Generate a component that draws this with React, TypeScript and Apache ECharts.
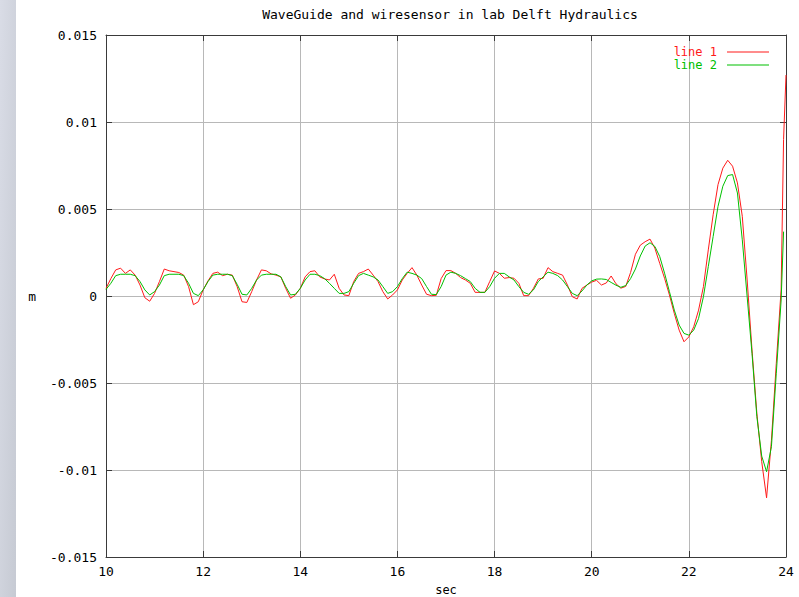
import React, { useEffect, useRef } from "react";
import * as echarts from "echarts";

const title = "WaveGuide and wiresensor in lab Delft Hydraulics";
const xName = "sec";
const yName = "m";
const seriesNames = ["line 1", "line 2"];
const xTicks = [10, 12, 14, 16, 18, 20, 22, 24];
const yTicks = [-0.015, -0.01, -0.005, 0, 0.005, 0.01, 0.015];

// sample times 10.0 .. 23.9 s (0.1 s step)
const startTime = 10;
const timeStep = 0.1;

// line 1 (red), metres
const line1 = [
  0.00044, 0.001, 0.0015, 0.0016, 0.0013, 0.0015, 0.0012, 0.00063, -0.0001, -0.0003,
  0.00015, 0.00083, 0.00155, 0.00145, 0.0014, 0.00135, 0.0012, 0.00054, -0.0005, -0.00033,
  0.00035, 0.00087, 0.0013, 0.00137, 0.00117, 0.00125, 0.0012, 0.00054, -0.00033, -0.00037,
  0.00025, 0.00092, 0.0015, 0.00145, 0.00127, 0.0012, 0.0011, 0.00044, -0.00013, 0.00006,
  0.00044, 0.0011, 0.0014, 0.00145, 0.0011, 0.00098, 0.00092, 0.00125, 0.00044, 0.00006,
  0.00002, 0.00083, 0.0013, 0.0014, 0.00155, 0.0012, 0.00083, 0.00025, -0.00017, 0.00006,
  0.00035, 0.00092, 0.0013, 0.00163, 0.0012, 0.00063, 0.0001, 0.00002, 0.00004, 0.001,
  0.00146, 0.00146, 0.0013, 0.00106, 0.00092, 0.00073, 0.00021, 0.00021, 0.00021, 0.00083,
  0.00144, 0.0013, 0.00102, 0.00106, 0.00102, 0.00073, 0.00002, 0.00002, 0.00044, 0.00098,
  0.00102, 0.00163, 0.0014, 0.0013, 0.0012, 0.00063, -0.00004, -0.00017, 0.00044, 0.00063,
  0.0008, 0.0009, 0.00063, 0.00075, 0.00115, 0.0007, 0.00045, 0.00055, 0.00135, 0.0024,
  0.00292, 0.00312, 0.00327, 0.00275, 0.00188, 0.00102, 0.00006, -0.001, -0.00196, -0.00263,
  -0.00235, -0.00177, -0.00081, 0.00054, 0.00265, 0.00467, 0.0064, 0.00735, 0.0078, 0.00746,
  0.0065, 0.00458, 0.00092, -0.0031, -0.00674, -0.00952, -0.0116, -0.0083, -0.00387, 0.0004,
];
const line1Tail = [
  [23.95, 0.009],
  [24.0, 0.0127],
];

// line 2 (green), metres
const line2 = [
  0.00038, 0.00073, 0.00117, 0.00125, 0.00125, 0.00125, 0.00117, 0.00083, 0.00035, 0.00006,
  0.00025, 0.00063, 0.00117, 0.00125, 0.00125, 0.00125, 0.00117, 0.00073, 0.00015, 0.00002,
  0.00035, 0.00083, 0.0012, 0.00125, 0.00125, 0.00125, 0.00117, 0.00067, 0.0001, 0.00006,
  0.00044, 0.00092, 0.0012, 0.00125, 0.00125, 0.00125, 0.0011, 0.00054, 0.00006, 0.0001,
  0.00044, 0.00092, 0.00125, 0.00125, 0.00117, 0.001, 0.00073, 0.00044, 0.00015, 0.00015,
  0.00025, 0.00073, 0.00117, 0.0013, 0.0012, 0.0011, 0.00092, 0.00054, 0.00015, 0.00025,
  0.00054, 0.001, 0.00137, 0.0013, 0.0012, 0.001, 0.00054, 0.0001, 0.00008, 0.00054,
  0.0012, 0.00137, 0.0013, 0.00117, 0.001, 0.00083, 0.00044, 0.00021, 0.00021, 0.00054,
  0.00102, 0.0013, 0.0013, 0.0011, 0.00092, 0.00054, 0.00021, 0.0001, 0.00035, 0.00083,
  0.0011, 0.00137, 0.0013, 0.00117, 0.00092, 0.00054, 0.00015, 0.00002, 0.00029, 0.00063,
  0.00087, 0.00097, 0.00098, 0.00095, 0.00078, 0.00062, 0.0005, 0.0006, 0.001, 0.00155,
  0.0023, 0.00287, 0.00306, 0.00285, 0.00227, 0.00131, 0.00025, -0.00081, -0.00167, -0.00215,
  -0.00225, -0.00196, -0.00129, -0.00004, 0.00169, 0.00342, 0.00515, 0.00631, 0.00692, 0.00698,
  0.00592, 0.00323, -0.00004, -0.0033, -0.00693, -0.0092, -0.0101, -0.00866, -0.00444, -0.00023,
];
const line2Tail = [[23.95, 0.0037]];

const toPairs = (vals: number[], tail: number[][]) =>
  vals
    .map((v, i) => [+(startTime + i * timeStep).toFixed(2), v])
    .concat(tail);

const FONT = "DejaVu Sans Mono";
const AXIS_COLOR = "#3a3a3a";
const GRID_COLOR = "#b8b8b8";
const RED = "#ff1a1a";
const GREEN = "#00c000";

export default function App() {
  const ref = useRef<HTMLDivElement>(null);
  useEffect(() => {
    if (!ref.current) return;
    const chart = echarts.init(ref.current, undefined, { renderer: "svg" });
    const yFmt = (v: number) => String(+v.toFixed(3));
    const tickCommon = { show: true, inside: true, length: 6, lineStyle: { color: AXIS_COLOR } };
    chart.setOption({
      animation: false,
      backgroundColor: "#ffffff",
      graphic: [
        {
          type: "rect",
          left: 0,
          top: 0,
          shape: { width: 16, height: 597 },
          style: {
            fill: new echarts.graphic.LinearGradient(0, 0, 1, 1, [
              { offset: 0, color: "#d9dce6" },
              { offset: 1, color: "#c6cad3" },
            ]),
          },
          silent: true,
        },
      ],
      title: {
        text: title,
        left: 445,
        textAlign: "center",
        top: 3,
        textStyle: { fontFamily: FONT, fontSize: 13, fontWeight: "normal", color: "#000" },
      },
      legend: {
        orient: "vertical",
        right: 25,
        top: 41,
        align: "right",
        icon: "rect",
        itemWidth: 42,
        itemHeight: 1,
        itemGap: 1,
        data: [
          { name: seriesNames[0], textStyle: { color: RED } },
          { name: seriesNames[1], textStyle: { color: GREEN } },
        ],
        textStyle: { fontFamily: FONT, fontSize: 12, lineHeight: 12, padding: [0, 5, 0, 0] },
      },
      grid: {
        left: 106,
        right: 13,
        top: 35,
        bottom: 40,
        containLabel: false,
        outerBoundsMode: "none",
      },
      xAxis: [
        {
          type: "value",
          min: xTicks[0],
          max: xTicks[xTicks.length - 1],
          interval: 2,
          name: xName,
          nameLocation: "middle",
          nameGap: 27,
          nameTextStyle: { fontFamily: FONT, fontSize: 12, lineHeight: 12, color: "#000" },
          axisLine: { show: true, onZero: false, lineStyle: { color: AXIS_COLOR, width: 1 } },
          axisTick: tickCommon,
          axisLabel: { fontFamily: FONT, fontSize: 13, color: "#000", margin: 8 },
          splitLine: { show: true, lineStyle: { color: GRID_COLOR, width: 1 } },
        },
        {
          type: "value",
          position: "top",
          min: xTicks[0],
          max: xTicks[xTicks.length - 1],
          interval: 2,
          axisLine: { show: true, onZero: false, lineStyle: { color: AXIS_COLOR, width: 1 } },
          axisTick: tickCommon,
          axisLabel: { show: false },
          splitLine: { show: false },
        },
      ],
      yAxis: [
        {
          type: "value",
          min: yTicks[0],
          max: yTicks[yTicks.length - 1],
          interval: 0.005,
          name: yName,
          nameLocation: "middle",
          nameRotate: 0,
          nameGap: 70,
          nameTextStyle: { fontFamily: FONT, fontSize: 13, color: "#000" },
          axisLine: { show: true, onZero: false, lineStyle: { color: AXIS_COLOR, width: 1 } },
          axisTick: tickCommon,
          axisLabel: { fontFamily: FONT, fontSize: 13, color: "#000", margin: 9, formatter: yFmt },
          splitLine: { show: true, lineStyle: { color: GRID_COLOR, width: 1 } },
        },
        {
          type: "value",
          position: "right",
          min: yTicks[0],
          max: yTicks[yTicks.length - 1],
          interval: 0.005,
          axisLine: { show: true, onZero: false, lineStyle: { color: AXIS_COLOR, width: 1 } },
          axisTick: tickCommon,
          axisLabel: { show: false },
          splitLine: { show: false },
        },
      ],
      series: [
        {
          name: seriesNames[0],
          type: "line",
          data: toPairs(line1, line1Tail),
          symbol: "none",
          color: RED,
          lineStyle: { color: RED, width: 1 },
          clip: true,
          z: 3,
        },
        {
          name: seriesNames[1],
          type: "line",
          data: toPairs(line2, line2Tail),
          symbol: "none",
          color: GREEN,
          lineStyle: { color: GREEN, width: 1 },
          clip: true,
          z: 4,
        },
      ],
    });
    return () => chart.dispose();
  }, []);
  return (
    <div
      ref={ref}
      style={{ position: "fixed", left: 0, top: 0, width: 799, height: 597 }}
    />
  );
}
